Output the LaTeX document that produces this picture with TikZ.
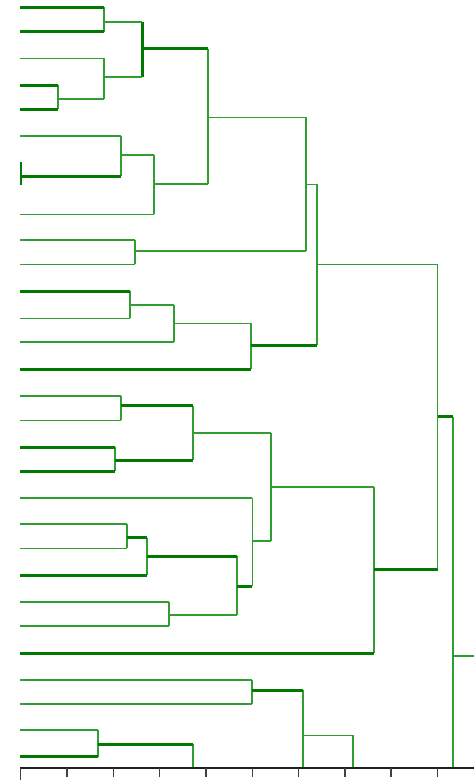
\documentclass[tikz,border=0pt]{standalone}
\definecolor{thinG}{RGB}{48,158,48}
\definecolor{thickG}{RGB}{0,122,0}
\newcommand\dlink[3]{\draw[#1] (#2) -- (#2 -| #3);}
\newcommand\dmerge[3]{\draw[thinln] (#1 |- #2) -- (#1 |- #3);}
\begin{document}
\begin{tikzpicture}[x=1pt,y=-1pt,
 thinln/.style={draw=thinG,line width=1.6pt},
 thickln/.style={draw=thickG,line width=3pt},
 axisln/.style={draw=black!88,line width=2.4pt},
 tickln/.style={draw=black!75,line width=1.4pt}]
\fill[white] (0,0) rectangle (474,780);
\useasboundingbox (0,0) rectangle (474,780);
% leaves
\coordinate (L1) at (20,7.3);
\coordinate (L2) at (20,31.7);
\coordinate (L3) at (20,58.3);
\coordinate (L4) at (20,85.3);
\coordinate (L5) at (20,109.3);
\coordinate (L6) at (20,136);
\coordinate (L7) at (20,176);
\coordinate (L8) at (20,214.3);
\coordinate (L9) at (20,240);
\coordinate (L10) at (20,264.3);
\coordinate (L11) at (20,291.3);
\coordinate (L12) at (20,318.3);
\coordinate (L13) at (20,342);
\coordinate (L14) at (20,369);
\coordinate (L15) at (20,395.7);
\coordinate (L16) at (20,420.3);
\coordinate (L17) at (20,447);
\coordinate (L18) at (20,471);
\coordinate (L19) at (20,498);
\coordinate (L20) at (20,524);
\coordinate (L21) at (20,548.3);
\coordinate (L22) at (20,575);
\coordinate (L23) at (20,602);
\coordinate (L24) at (20,626);
\coordinate (L25) at (20,653.3);
\coordinate (L26) at (20,680);
\coordinate (L27) at (20,704);
\coordinate (L28) at (20,730);
\coordinate (L29) at (20,756.5);
% junctions
\coordinate (J1) at (104,21.7);
\coordinate (J2) at (58,99);
\coordinate (J2b) at (104,77);
\coordinate (J3) at (142,48.7);
\coordinate (J4) at (121,154.7);
\coordinate (J5) at (154,184);
\coordinate (J6) at (208,117.3);
\coordinate (J7) at (135,250.7);
\coordinate (J8) at (306,184.3);
\coordinate (J9) at (130,305);
\coordinate (J10) at (174,323.3);
\coordinate (J11) at (250.7,345);
\coordinate (J12) at (317,264.3);
\coordinate (J13) at (121,405.7);
\coordinate (J14) at (115,460);
\coordinate (J15) at (193,433);
\coordinate (J16) at (127,537.7);
\coordinate (J17) at (146.7,556);
\coordinate (J18) at (169,615);
\coordinate (J19) at (237,586);
\coordinate (J19b) at (252.3,540.7);
\coordinate (J20) at (271,487);
\coordinate (J21) at (374,569.3);
\coordinate (J22) at (437.5,416.7);
\coordinate (J23) at (453,655.7);
\coordinate (J24) at (252,690);
\coordinate (J25) at (302.7,735.3);
\coordinate (J26) at (352.7,735.3);
\coordinate (J27) at (98,744);
\coordinate (J28) at (192.7,744);
\coordinate (R) at (474,655.7);
\coordinate (B23) at (453,767);
\coordinate (B25) at (302.7,767);
\coordinate (B26) at (352.7,767);
\coordinate (B28) at (192.7,767);
% verticals
\dmerge{J1}{L1}{L2}
\dmerge{J2}{L4}{L5}
\dmerge{J2b}{L3}{J2}
\draw[thickln] (J3 |- J1) -- (J3 |- J2b);
\dmerge{J4}{L6}{L7}
\dmerge{J5}{J4}{L8}
\dmerge{J6}{J3}{J5}
\dmerge{J7}{L9}{L10}
\dmerge{J8}{J6}{J7}
\dmerge{J9}{L11}{L12}
\dmerge{J10}{J9}{L13}
\dmerge{J11}{J10}{L14}
\dmerge{J12}{J8}{J11}
\dmerge{J13}{L15}{L16}
\dmerge{J14}{L17}{L18}
\dmerge{J15}{J13}{J14}
\dmerge{J16}{L20}{L21}
\dmerge{J17}{J16}{L22}
\dmerge{J18}{L23}{L24}
\dmerge{J19}{J17}{J18}
\dmerge{J19b}{L19}{J19}
\dmerge{J20}{J15}{J19b}
\dmerge{J21}{J20}{L25}
\dmerge{J22}{J12}{J21}
\dmerge{J23}{J22}{B23}
\dmerge{J24}{L26}{L27}
\dmerge{J25}{J24}{B25}
\dmerge{J26}{J25}{B26}
\dmerge{J27}{L28}{L29}
\dmerge{J28}{J27}{B28}
% horizontals
\dlink{thickln}{L1}{J1}
\dlink{thickln}{L2}{J1}
\dlink{thinln}{L3}{J2b}
\dlink{thickln}{L4}{J2}
\dlink{thickln}{L5}{J2}
\dlink{thinln}{J2}{J2b}
\dlink{thinln}{J1}{J3}
\dlink{thinln}{J2b}{J3}
\dlink{thickln}{J3}{J6}
\dlink{thinln}{L6}{J4}
\dlink{thickln}{L7}{J4}
\dlink{thinln}{J4}{J5}
\dlink{thinln}{L8}{J5}
\dlink{thinln}{J5}{J6}
\dlink{thinln}{J6}{J8}
\dlink{thinln}{L9}{J7}
\dlink{thinln}{L10}{J7}
\dlink{thinln}{J7}{J8}
\dlink{thinln}{J8}{J12}
\dlink{thickln}{L11}{J9}
\dlink{thinln}{L12}{J9}
\dlink{thinln}{J9}{J10}
\dlink{thinln}{L13}{J10}
\dlink{thinln}{J10}{J11}
\dlink{thickln}{L14}{J11}
\dlink{thickln}{J11}{J12}
\dlink{thinln}{J12}{J22}
\dlink{thinln}{L15}{J13}
\dlink{thinln}{L16}{J13}
\dlink{thickln}{J13}{J15}
\dlink{thickln}{L17}{J14}
\dlink{thickln}{L18}{J14}
\dlink{thickln}{J14}{J15}
\dlink{thinln}{J15}{J20}
\dlink{thinln}{L19}{J19b}
\dlink{thinln}{L20}{J16}
\dlink{thinln}{L21}{J16}
\dlink{thickln}{J16}{J17}
\dlink{thickln}{L22}{J17}
\dlink{thickln}{J17}{J19}
\dlink{thinln}{L23}{J18}
\dlink{thinln}{L24}{J18}
\dlink{thinln}{J18}{J19}
\dlink{thickln}{J19}{J19b}
\dlink{thinln}{J19b}{J20}
\dlink{thinln}{J20}{J21}
\dlink{thickln}{L25}{J21}
\dlink{thickln}{J21}{J22}
\dlink{thickln}{J22}{J23}
\dlink{thinln}{J23}{R}
\dlink{thinln}{L26}{J24}
\dlink{thinln}{L27}{J24}
\dlink{thickln}{J24}{J25}
\dlink{thinln}{J25}{J26}
\dlink{thinln}{L28}{J27}
\dlink{thickln}{L29}{J27}
\dlink{thickln}{J27}{J28}
% stray mark at left edge
\draw[draw=thickG,line width=2pt] (20.5,161.7) -- (20.5,185);
% axis
\coordinate (A0) at (20,768);
\coordinate (A1) at (474,768);
\draw[axisln] (A0) -- (A1);
\draw[tickln] (20.7,768) -- (20.7,780);
\foreach \k in {1,...,9}{
  \draw[tickln] ({20.7+46.3*\k},768) -- ({20.7+46.3*\k},777);
}
\end{tikzpicture}
\end{document}
